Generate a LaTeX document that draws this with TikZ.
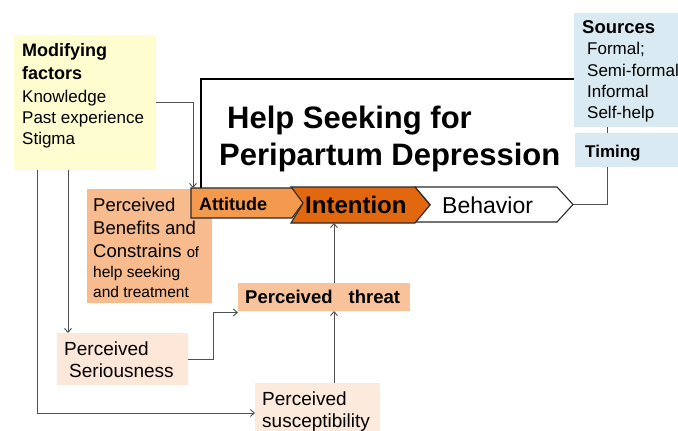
\documentclass[tikz,border=0pt]{standalone}
\usepackage{fontspec}
\setmainfont{Liberation Sans}
\usetikzlibrary{arrows.meta,calc}
\definecolor{yellowC}{HTML}{FDFDD0}
\definecolor{benC}{HTML}{F7BB8D}
\definecolor{thrC}{HTML}{F8C39A}
\definecolor{serC}{HTML}{FCE7D8}
\definecolor{susC}{HTML}{FCEADC}
\definecolor{blueC}{HTML}{DAEAF2}
\definecolor{attC}{HTML}{F39A4E}
\definecolor{intC}{HTML}{E2680F}
\definecolor{lineGray}{HTML}{505050}
\definecolor{edgeC}{HTML}{2A2A2A}
\tikzset{
  lbl/.style={inner sep=0pt, anchor=base west, text=black},
  box/.style={inner sep=0pt, outer sep=0pt, anchor=north west, draw=none},
  arr/.style={draw=lineGray, line width=0.9pt, -{Straight Barb[length=4pt,width=7pt]}},
  ln/.style={draw=lineGray, line width=0.9pt},
  chev/.style={draw=edgeC, line width=1.1pt, line join=miter},
  frameline/.style={draw=black, line width=1.3pt},
}
\newcommand{\fs}[1]{\fontsize{#1}{#1}\selectfont}
\begin{document}
\begin{tikzpicture}[x=1pt,y=-1pt]
\path[fill=white,use as bounding box] (0,0) rectangle (678,431);

% boxes
\node[box, fill=yellowC, minimum width=142pt, minimum height=135pt] (mod) at (14,35) {};
\node[box, fill=benC, minimum width=125pt, minimum height=114pt] (ben) at (87,189) {};
\node[box, fill=thrC, minimum width=172pt, minimum height=28pt] (thr) at (238,283) {};
\node[box, fill=serC, minimum width=131pt, minimum height=52pt] (ser) at (57,333) {};
\node[box, fill=susC, minimum width=125pt, minimum height=60pt] (susc) at (255,383) {};
\node[box, fill=blueC, minimum width=120pt, minimum height=114pt] (src) at (574,13) {};
\node[box, fill=blueC, minimum width=120pt, minimum height=34pt] (tim) at (575,133) {};

% chevron anchor nodes
\node[box, minimum width=112pt, minimum height=30pt] (att) at (191,188) {};
\node[box, minimum width=139pt, minimum height=36pt] (int) at (291,187) {};
\node[box, minimum width=158pt, minimum height=35pt] (beh) at (415,187) {};

% frame
\coordinate (fr) at (201,79);
\draw[frameline] ([xshift=10pt]att.north west) |- (fr -| src.west);

% chevrons
\draw[chev, fill=white] (beh.north west) -- ([xshift=-16pt]beh.north east) -- (beh.east)
  -- ([xshift=-16pt]beh.south east) -- (beh.south west) -- ([xshift=15pt]beh.west) -- cycle;
\draw[chev, fill=intC] (int.north west) -- ([xshift=-15pt]int.north east) -- (int.east)
  -- ([xshift=-15pt]int.south east) -- (int.south west) -- ([xshift=11pt]int.west) -- cycle;
\draw[chev, fill=attC] (att.north west) -- ([xshift=-11pt]att.north east) -- (att.east)
  -- ([xshift=-11pt]att.south east) -- (att.south west) -- cycle;

% texts
\node[lbl, font=\bfseries\fs{18}] (mod1) at (22,56.7) {Modifying};
\node[lbl, font=\bfseries\fs{18}] (mod2) at (22,79.3) {factors};
\node[lbl, font=\fs{17}] (mod3) at (22,102.7) {Knowledge};
\node[lbl, font=\fs{17}] (mod4) at (22,123.3) {Past experience};
\node[lbl, font=\fs{17}] (mod5) at (22,144.3) {Stigma};

\node[lbl, font=\fs{18.5}] (ben1) at (93,211.7) {Perceived};
\node[lbl, font=\fs{18.5}] (ben2) at (93,234) {Benefits and};
\node[lbl, font=\fs{18.5}] (ben3) at (93,257) {Constrains {\fs{14.8}of}};
\node[lbl, font=\fs{15.5}] (ben4) at (93,277.5) {help seeking};
\node[lbl, font=\fs{15.5}] (ben5) at (93,297.5) {and treatment};

\node[lbl, font=\bfseries\fs{31}] (tt1) at (227,128) {Help Seeking for};
\node[lbl, font=\bfseries\fs{31}] (tt2) at (219,165) {Peripartum Depression};

\node[lbl, font=\bfseries\fs{18}] (attT) at (199,210) {Attitude};
\node[lbl, font=\bfseries\fs{24}] (intT) at (305,213) {Intention};
\node[lbl, font=\fs{23}] (behT) at (442,213) {Behavior};

\node[lbl, font=\bfseries\fs{18.5}] (src1) at (582,34) {Sources};
\node[lbl, font=\fs{17}] (src2) at (587,54.5) {Formal;};
\node[lbl, font=\fs{17}] (src3) at (587,76) {Semi-formal};
\node[lbl, font=\fs{17}] (src4) at (587,97) {Informal};
\node[lbl, font=\fs{17}] (src5) at (587,118) {Self-help};
\node[lbl, font=\bfseries\fs{17}] (timT) at (585,157) {Timing};

\node[lbl, font=\bfseries\fs{18.5}] (thrT) at (245,303.3) {Perceived\hspace{11pt} threat};
\node[lbl, font=\fs{19}] (ser1) at (64,355) {Perceived};
\node[lbl, font=\fs{19}] (ser2) at (69,377) {Seriousness};
\node[lbl, font=\fs{19}] (sus1) at (262,405) {Perceived};
\node[lbl, font=\fs{19}] (sus2) at (262,427) {susceptibility};

% connectors
\draw[arr] (mod.east) -| ([xshift=2pt]att.north west);
\coordinate (m1) at ([xshift=23pt]mod.south west);
\coordinate (m2) at ([xshift=54pt]mod.south west);
\draw[arr] (m1) |- (susc.west);
\draw[arr] (m2) -- (m2 |- ser.north);
\draw[arr] (ser.east) -- ++(25,0) |- ([yshift=-1.5pt]thr.south west);
\coordinate (tx) at ([xshift=10pt]thr.south);
\draw[arr] (susc.north -| tx) -- (tx);
\draw[arr] (thr.north -| tx) -- (tx |- int.south);
\coordinate (tm) at ([xshift=32pt]tim.south west);
\draw[ln] (beh.east) -| (tm);
\draw[ln] (src.south -| tm) -- (tim.north -| tm);
\end{tikzpicture}
\end{document}
